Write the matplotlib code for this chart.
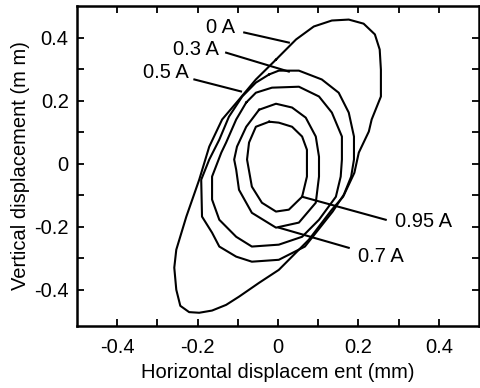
import matplotlib.pyplot as plt

plt.rcParams['font.family'] = ['Liberation Sans', 'DejaVu Sans']

# orbit traces (horizontal, vertical displacement in mm) for each coil current
x_0a = [-0.005, 0.045, 0.089, 0.134, 0.176, 0.213, 0.241, 0.253, 0.256, 0.256, 0.233, 0.226,
        0.201, 0.190, 0.162, 0.134, 0.077, 0.002, -0.047, -0.097, -0.129, -0.164, -0.196,
        -0.221, -0.243, -0.253, -0.258, -0.253, -0.228, -0.196, -0.171, -0.139, -0.097, -0.055]
y_0a = [0.330, 0.394, 0.435, 0.454, 0.457, 0.444, 0.410, 0.362, 0.298, 0.213, 0.140, 0.102,
        0.035, -0.029, -0.105, -0.146, -0.241, -0.337, -0.378, -0.422, -0.448, -0.466, -0.473,
        -0.471, -0.451, -0.400, -0.330, -0.273, -0.168, -0.051, 0.054, 0.140, 0.203, 0.267]

x_03a = [-0.022, 0.002, 0.052, 0.109, 0.151, 0.176, 0.189, 0.189, 0.182, 0.164, 0.136, 0.100,
         0.067, 0.002, -0.065, -0.104, -0.146, -0.164, -0.189, -0.191, -0.171, -0.146, -0.122,
         -0.089, -0.055]
y_03a = [0.283, 0.295, 0.295, 0.267, 0.225, 0.162, 0.086, 0.013, -0.041, -0.098, -0.152,
         -0.210, -0.263, -0.305, -0.311, -0.295, -0.263, -0.219, -0.168, -0.051, 0.013, 0.076,
         0.149, 0.213, 0.257]

x_05a = [-0.079, -0.055, -0.015, 0.052, 0.102, 0.134, 0.159, 0.159, 0.156, 0.144, 0.102,
         0.060, 0.002, -0.065, -0.104, -0.146, -0.164, -0.164, -0.141, -0.129, -0.104]
y_05a = [0.194, 0.225, 0.241, 0.244, 0.213, 0.162, 0.086, 0.013, -0.041, -0.105, -0.178,
         -0.232, -0.257, -0.263, -0.232, -0.178, -0.114, -0.041, 0.035, 0.067, 0.140]

x_07a = [-0.047, -0.005, 0.035, 0.069, 0.094, 0.102, 0.102, 0.094, 0.052, -0.005, -0.065,
         -0.097, -0.104, -0.109, -0.102, -0.079]
y_07a = [0.171, 0.190, 0.178, 0.146, 0.086, 0.022, -0.041, -0.124, -0.187, -0.203, -0.156,
         -0.083, -0.019, 0.013, 0.054, 0.117]

x_095a = [-0.022, 0.002, 0.035, 0.060, 0.072, 0.072, 0.060, 0.027, -0.005, -0.040, -0.065,
          -0.077, -0.072, -0.055]
y_095a = [0.133, 0.130, 0.117, 0.086, 0.044, -0.041, -0.105, -0.146, -0.152, -0.124, -0.073,
          0.013, 0.067, 0.117]

labels = ['0 A', '0.3 A', '0.5 A', '0.7 A', '0.95 A']

fig = plt.figure(figsize=(4.8, 3.88), dpi=100)
ax = fig.add_axes([0.1604, 0.1598, 0.8375, 0.8247])

for xs, ys in [(x_0a, y_0a), (x_03a, y_03a), (x_05a, y_05a), (x_07a, y_07a), (x_095a, y_095a)]:
    ax.plot(xs + xs[:1], ys + ys[:1], color='black', lw=1.5)

# labels with leader lines
label_pos = [(-0.144, 0.432), (-0.203, 0.362), (-0.278, 0.289), (0.256, -0.295), (0.362, -0.184)]
leaders = [((-0.084, 0.416), (0.027, 0.384)),
           ((-0.129, 0.352), (0.027, 0.292)),
           ((-0.208, 0.267), (-0.092, 0.229)),
           ((0.176, -0.267), (0.002, -0.203)),
           ((0.268, -0.178), (0.060, -0.105))]
for lab, (tx, ty), (p0, p1) in zip(labels, label_pos, leaders):
    ax.text(tx, ty, lab, fontsize=14.5, ha='center', va='center')
    ax.plot([p0[0], p1[0]], [p0[1], p1[1]], color='black', lw=1.5)

ax.set_xlim(-0.5, 0.5)
ax.set_ylim(-0.515, 0.5)
ax.set_xticks([-0.4, -0.2, 0, 0.2, 0.4])
ax.set_xticklabels(['-0.4', '-0.2', '0', '0.2', '0.4'])
ax.set_yticks([-0.4, -0.2, 0, 0.2, 0.4])
ax.set_yticklabels(['-0.4', '-0.2', '0', '0.2', '0.4'])
ax.set_xticks([-0.3, -0.1, 0.1, 0.3], minor=True)
ax.set_yticks([-0.3, -0.1, 0.1, 0.3], minor=True)
ax.tick_params(which='both', direction='in', length=5, width=1.3, top=True, right=True,
               labelsize=14.5)
ax.tick_params(axis='x', pad=9)
ax.tick_params(axis='y', pad=6)
for s in ax.spines.values():
    s.set_linewidth(1.8)

ax.set_xlabel('Horizontal displacem ent (mm)', fontsize=14.5, labelpad=4)
ax.set_ylabel('Vertical displacement (m m)', fontsize=14.5, labelpad=3)

fig.savefig('out.png', dpi=100)
